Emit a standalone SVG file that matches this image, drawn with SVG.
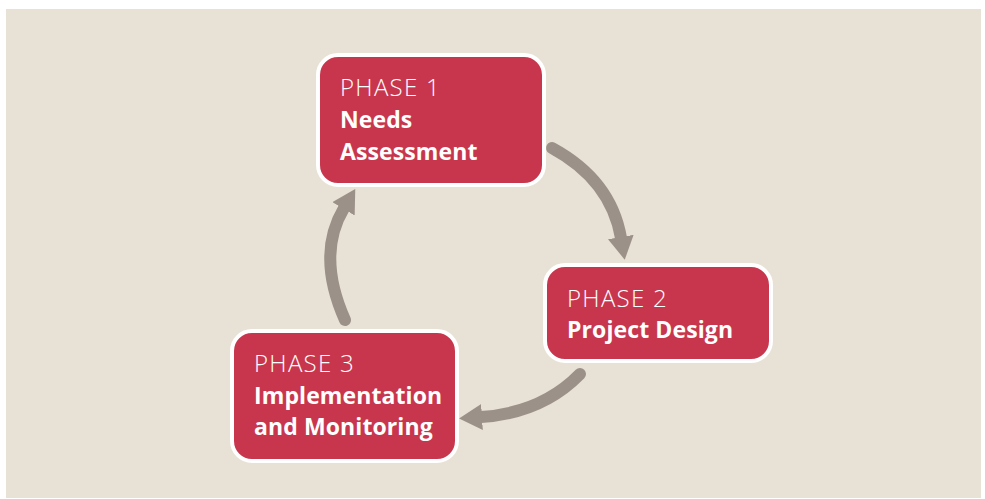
<svg xmlns="http://www.w3.org/2000/svg" width="985" height="499" viewBox="0 0 985 499">
<style>
.node{fill:#c8364d;stroke:#ffffff;stroke-width:4}
.ph{font-family:"Open Sans","Noto Sans",sans-serif;font-weight:300;font-size:24px;letter-spacing:1.3px;fill:#ffffff}
.tt{font-family:"Open Sans","Noto Sans",sans-serif;font-weight:700;font-size:23px;letter-spacing:0.1px;fill:#ffffff}
.arr{fill:none;stroke:#9c9188;stroke-width:12;stroke-linecap:round;marker-end:url(#ah)}
</style>
<defs>
<marker id="ah" markerUnits="userSpaceOnUse" markerWidth="26" markerHeight="28" refX="1" refY="13" orient="auto">
<path d="M0,0 L23,13 L0,26 z" fill="#9c9188"/>
</marker>
</defs>
<rect x="6" y="9" width="975" height="489" fill="#e8e1d6"/>
<g id="connectors">
<path class="arr" d="M552,148 Q611,180 621,238"/>
<path class="arr" d="M580,374 Q542,413 481,417"/>
<path class="arr" d="M345,320 Q316,255 344,208"/>
</g>
<g id="phase1">
<rect class="node" x="318" y="55" width="226" height="130" rx="20"/>
<text class="ph" x="340" y="96">PHASE 1</text>
<text class="tt" x="340" y="128">Needs</text>
<text class="tt" x="340" y="160">Assessment</text>
</g>
<g id="phase2">
<rect class="node" x="545" y="265" width="226" height="96" rx="20"/>
<text class="ph" x="567" y="307">PHASE 2</text>
<text class="tt" x="567" y="338">Project Design</text>
</g>
<g id="phase3">
<rect class="node" x="232" y="331" width="225" height="130" rx="20"/>
<text class="ph" x="254" y="372">PHASE 3</text>
<text class="tt" x="254" y="404">Implementation</text>
<text class="tt" x="254" y="435">and Monitoring</text>
</g>
</svg>
